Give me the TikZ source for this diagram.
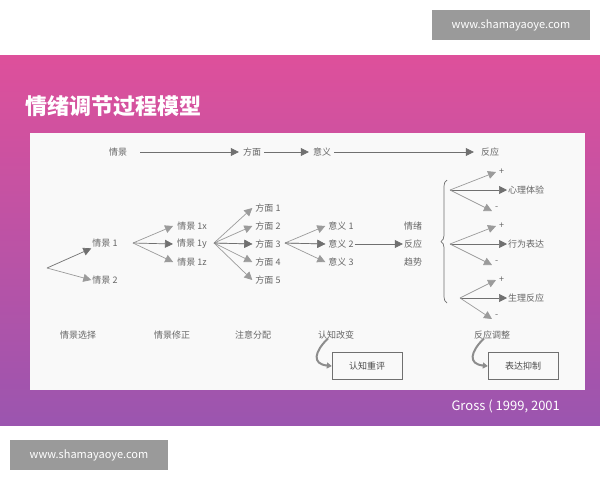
\documentclass[tikz,border=0pt]{standalone}
\usepackage{fontspec}
\setmainfont{Noto Sans CJK SC}
\usetikzlibrary{arrows.meta,decorations.pathreplacing}
\definecolor{tx}{HTML}{666666}
\definecolor{ln}{HTML}{707070}
\definecolor{wm}{HTML}{9A9A9A}
\begin{document}
\begin{tikzpicture}[x=1pt,y=-1pt,
  t/.style={text=tx,font=\fontsize{9}{10}\selectfont,inner sep=1pt},
  ar/.style={draw=ln,line width=0.7pt,-{Triangle[length=8pt,width=8pt]}},
  br/.style={ar,draw=ln!70},
  wmk/.style={fill=wm,text=white,font=\fontsize{11}{12}\selectfont,minimum width=158pt,minimum height=30pt,inner sep=0pt}]
\useasboundingbox (0,0) rectangle (600,480);
\fill[white] (0,0) rectangle (600,480);
\shade[top color={rgb,255:red,222;green,80;blue,155},bottom color={rgb,255:red,155;green,85;blue,175}] (0,55) rectangle (600,425);
\node[wmk] (w1) at (511,25) {www.shamayaoye.com};
\node[wmk] (w2) at (89,455) {www.shamayaoye.com};
\node[text=white,font=\bfseries\fontsize{22}{24}\selectfont,anchor=west] (title) at (22,106) {情绪调节过程模型};
\fill[white!95!gray] (30,133) rectangle (585,390);
\node[text=white,font=\fontsize{13}{14}\selectfont,anchor=west] (gross) at (448,406) {Gross ( 1999, 2001};
% header
\node[t] (h1) at (118,152) {情景};
\node[t] (h2) at (252,152) {方面};
\node[t] (h3) at (322,152) {意义};
\node[t] (h4) at (490,152) {反应};
\draw[ar] (h1.east)++(12,0) -- ([xshift=-3pt]h2.west);
\draw[ar] (h2) ++(12,0) -- ([xshift=-3pt]h3.west);
\draw[ar] (h3) ++(12,0) -- ([xshift=-6pt]h4.west);
% situations
\coordinate (o) at (47,268);
\node[t] (q1) at (105,243) {情景 1};
\node[t] (q2) at (105,280) {情景 2};
\draw[ar] (o) -- (q1.south west);
\draw[br] (o) -- (q2.west);
\node[t] (qx) at (192,226) {情景 1x};
\node[t] (qy) at (192,244) {情景 1y};
\node[t] (qz) at (192,262) {情景 1z};
\coordinate (s1) at (133,243);
\draw[br] (s1) -- ([xshift=-3pt]qx.west);
\draw[ar] (s1) -- ([xshift=-3pt]qy.west);
\draw[br] (s1) -- ([xshift=-3pt]qz.west);
% aspects
\coordinate (s2) at (214,243);
\foreach \i/\y in {1/208,2/226,3/244,4/262,5/280}{
  \node[t] (f\i) at (268,\y) {方面 \i};
  \draw[br] (s2) -- ([xshift=-2pt]f\i.west);
}
\draw[ar] (s2) -- ([xshift=-2pt]f3.west);
% meanings
\coordinate (s3) at (285,243);
\foreach \i/\y in {1/226,2/244,3/262}{
  \node[t] (m\i) at (341,\y) {意义 \i};
  \draw[br] (s3) -- ([xshift=-2pt]m\i.west);
}
\draw[ar] (s3) -- ([xshift=-2pt]m2.west);
\node[t] (e1) at (413,226) {情绪};
\node[t] (e2) at (413,244) {反应};
\node[t] (e3) at (413,262) {趋势};
\draw[ar] (m2.east) -- (e2.west);
\draw[ln,line width=0.7pt,decorate,decoration={brace,amplitude=6pt}] (447,303) -- (447,180);
% responses
\foreach \g/\x/\y/\lab in {a/450/190/心理体验,b/450/244/行为表达,c/460/298/生理反应}{
  \coordinate (c\g) at (\x,\y);
  \node[t,anchor=west] (p\g) at (498,\y-18) {+};
  \node[t,anchor=west] (l\g) at (507,\y) {\lab};
  \node[t,anchor=west] (n\g) at (494,\y+18) {-};
  \draw[br] (c\g) -- ([xshift=-2pt]p\g.west);
  \draw[ar] (c\g) -- (l\g.west);
  \draw[br] (c\g) -- ([xshift=-2pt,yshift=-3pt]n\g.west);
}
% bottom labels
\node[t] (b1) at (78,335) {情景选择};
\node[t] (b2) at (172,335) {情景修正};
\node[t] (b3) at (253,335) {注意分配};
\node[t] (b4) at (336,335) {认知改变};
\node[t] (b5) at (492,335) {反应调整};
\node[t,draw=ln,minimum width=70pt,minimum height=27pt,text=black!70] (k1) at (367,366) {认知重评};
\node[t,draw=ln,minimum width=70pt,minimum height=27pt,text=black!70] (k2) at (523,366) {表达抑制};
\draw[ln!80,line width=2pt,-{Triangle[length=5pt,width=6pt]}] ([xshift=-8pt,yshift=2pt]b4.south) .. controls (314,352) and (312,364) .. (k1.west);
\draw[ln!80,line width=2pt,-{Triangle[length=5pt,width=6pt]}] ([xshift=-8pt,yshift=2pt]b5.south) .. controls (470,352) and (468,364) .. (k2.west);
\end{tikzpicture}
\end{document}
